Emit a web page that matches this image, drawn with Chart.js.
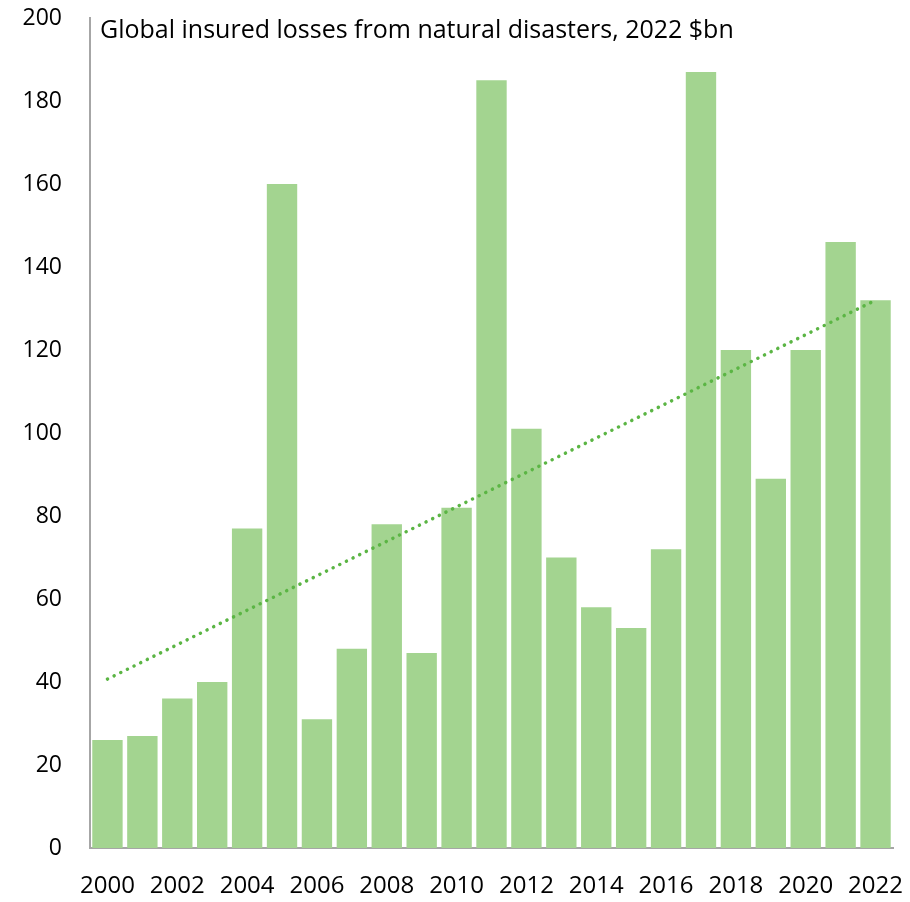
<!DOCTYPE html>
<html>
<head>
<meta charset="utf-8">
<script src="https://cdn.jsdelivr.net/npm/chart.js@4/dist/chart.umd.min.js"></script>
<style>
html,body{margin:0;padding:0;background:#fff;}
#wrap{width:910px;height:902px;}
</style>
</head>
<body>
<div id="wrap"><canvas id="c" width="910" height="902"></canvas></div>
<script>
const years = ['2000','2001','2002','2003','2004','2005','2006','2007','2008','2009','2010','2011','2012','2013','2014','2015','2016','2017','2018','2019','2020','2021','2022'];
const losses = [26,27,36,40,77,160,31,48,78,47,82,185,101,70,58,53,72,187,120,89,120,146,132];
// trend line endpoints (2000 and 2022)
const trend = [40.7,null,null,null,null,null,null,null,null,null,null,null,null,null,null,null,null,null,null,null,null,null,132];
const yTicks = [0,20,40,60,80,100,120,140,160,180,200];
const titleText = 'Global insured losses from natural disasters, 2022 $bn';

const FONT = "'Open Sans', 'Noto Sans', sans-serif";

const titlePlugin = {
  id: 'innerTitle',
  afterDraw(chart) {
    const ctx = chart.ctx, a = chart.chartArea;
    ctx.save();
    ctx.font = '25px ' + FONT;
    ctx.fillStyle = '#000';
    ctx.textBaseline = 'alphabetic';
    ctx.textAlign = 'left';
    ctx.fillText(titleText, a.left + 10, a.top + 20);
    ctx.restore();
  }
};

new Chart(document.getElementById('c'), {
  data: {
    labels: years,
    datasets: [
      {
        type: 'line',
        data: trend,
        spanGaps: true,
        borderColor: '#5bb544',
        borderWidth: 3.5,
        borderDash: [0.1, 7.3],
        borderCapStyle: 'round',
        pointRadius: 0,
        fill: false,
        order: 0
      },
      {
        type: 'bar',
        data: losses,
        backgroundColor: '#a3d490',
        categoryPercentage: 1,
        barPercentage: 0.87,
        order: 1
      }
    ]
  },
  options: {
    responsive: false,
    animation: false,
    devicePixelRatio: 1,
    layout: { padding: { left: 0, right: 17, top: 18, bottom: 0 } },
    plugins: { legend: { display: false }, tooltip: { enabled: false }, title: { display: false } },
    scales: {
      x: {
        grid: { display: false, drawTicks: false },
        border: { display: true, color: '#a6a6a6', width: 2 },
        ticks: {
          font: { family: FONT, size: 24 },
          color: '#000',
          padding: 24,
          maxRotation: 0,
          autoSkip: false,
          callback: function(v, i) { return i % 2 === 0 ? years[i] : ''; }
        },
        afterFit(s) { s.height = 54; s.paddingLeft = 0; s.paddingRight = 0; }
      },
      y: {
        min: 0, max: 200,
        afterBuildTicks(s) { s.ticks = yTicks.map(v => ({ value: v })); },
        grid: { display: false, drawTicks: false },
        border: { display: true, color: '#a6a6a6', width: 2 },
        ticks: {
          font: { family: FONT, size: 23 },
          color: '#000',
          padding: 28
        },
        afterFit(s) { s.width = 90; s.paddingTop = 0; s.paddingBottom = 0; }
      }
    }
  },
  plugins: [titlePlugin]
});
</script>
</body>
</html>
